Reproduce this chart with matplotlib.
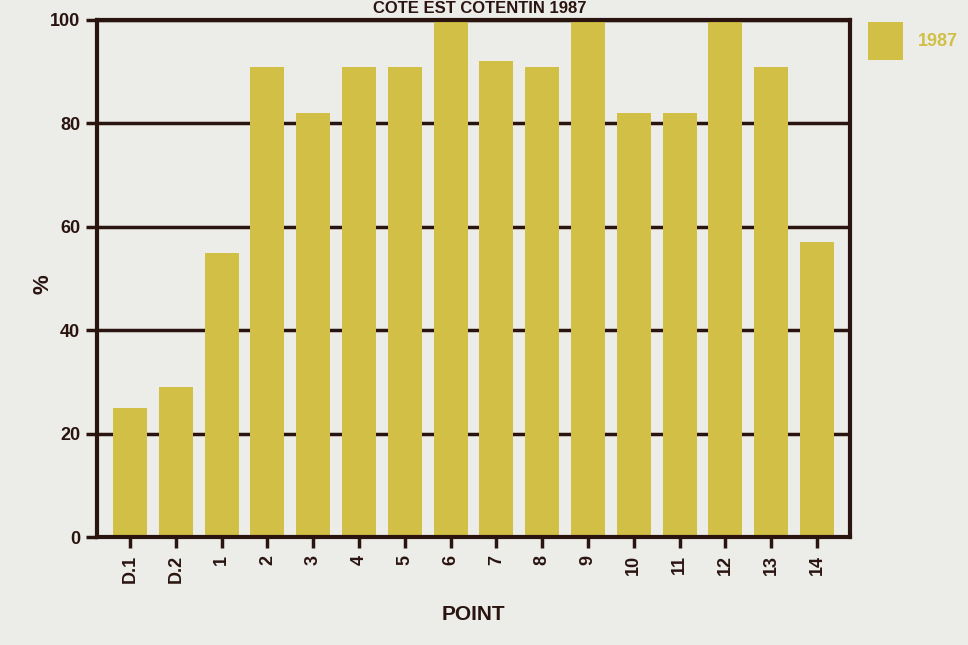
import matplotlib.pyplot as plt
import numpy as np

# Pourcentage par point, côte est Cotentin 1987
points = ['D.1', 'D.2', '1', '2', '3', '4', '5', '6', '7', '8', '9',
          '10', '11', '12', '13', '14']
valeurs = [25, 29, 55, 91, 82, 91, 91, 100, 92, 91, 100, 82, 82, 100, 91, 57]

brun = '#2a1410'
jaune = '#d2bf45'
fond = '#ecece8'

plt.rcParams['font.family'] = ['Liberation Sans', 'DejaVu Sans']
plt.rcParams['font.weight'] = 'bold'

fig = plt.figure(figsize=(9.68, 6.45), dpi=100, facecolor=fond)
ax = fig.add_axes([97 / 968, 108 / 645, 753 / 968, 517 / 645])
ax.set_facecolor(fond)

x = np.arange(len(points))
ax.bar(x, valeurs, width=0.74, color=jaune, zorder=2, label='1987')

ax.set_xlim(-0.72, len(points) - 0.28)
ax.set_ylim(0, 100)
ax.set_yticks([0, 20, 40, 60, 80, 100])
ax.yaxis.grid(True, color=brun, linewidth=2.5, zorder=1)
ax.set_axisbelow(True)

ax.set_xticks(x)
ax.set_xticklabels(points, rotation=90, fontsize=13, fontweight='bold', color=brun)
ax.tick_params(axis='y', labelsize=13, colors=brun, length=8, width=2.5, pad=4)
ax.tick_params(axis='x', length=8, width=2.5, colors=brun, pad=5)
for s in ax.spines.values():
    s.set_color(brun)
    s.set_linewidth(3)

ax.set_xlabel('POINT', fontsize=15, fontweight='bold', color=brun, labelpad=16)
ax.set_ylabel('%', fontsize=16, fontweight='bold', color=brun)
ax.yaxis.set_label_coords(-0.058, 0.49)

fig.text(480 / 968, 1 - 1 / 645, 'COTE EST COTENTIN 1987', ha='center',
         va='top', fontsize=12, fontweight='bold', color=brun)

leg = ax.legend(loc='upper left', bbox_to_anchor=(1.024, 0.996), frameon=False,
                borderaxespad=0, borderpad=0,
                handlelength=1.95, handleheight=2.85, handletextpad=0.8,
                fontsize=13)
for t in leg.get_texts():
    t.set_color(jaune)

fig.savefig('out.png', dpi=100, facecolor=fond)
